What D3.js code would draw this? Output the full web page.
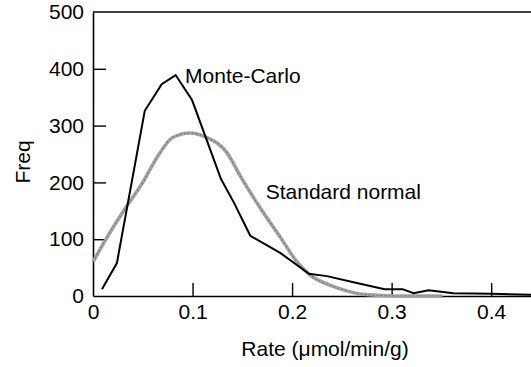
<!DOCTYPE html>
<html>
<head>
<meta charset="utf-8">
<script src="https://cdn.jsdelivr.net/npm/d3@7"></script>
<style>
  body { margin: 0; background: #fff; }
  text { font-family: "Liberation Sans", Arial, sans-serif; }
</style>
</head>
<body>
<svg id="chart" width="531" height="367"></svg>
<script>
// Monte-Carlo histogram polyline
const monteX = [0.009, 0.024, 0.052, 0.069, 0.083, 0.0995, 0.1286, 0.1417, 0.158, 0.188, 0.217, 0.235, 0.265, 0.293, 0.311, 0.322, 0.337, 0.362, 0.40, 0.44];
const monteY = [12, 58, 326, 373, 389, 345, 206, 164, 106, 76, 39, 35, 23, 12, 12, 5, 10, 5, 4, 2];

// standard normal fit
const normalX = [0, 0.013, 0.03, 0.05, 0.064, 0.08, 0.0975, 0.113, 0.1347, 0.148, 0.168, 0.188, 0.205, 0.218, 0.238, 0.255, 0.271, 0.29, 0.31, 0.33, 0.351];
const normalY = [60, 100, 148, 200, 243, 279, 287, 280, 252, 211, 155, 104, 60, 37, 19, 9, 3, 1, 0, 0, 0];

const xTicks = [0, 0.1, 0.2, 0.3, 0.4];
const yTicks = [0, 100, 200, 300, 400, 500];

const labels = [
  { text: "Monte-Carlo", x: 0.0925, y: 375 },
  { text: "Standard normal", x: 0.1735, y: 170 }
];

const margin = { left: 93, right: 0, top: 12, bottom: 71 };
const width = 531, height = 367;

const svg = d3.select("#chart");

const x = d3.scaleLinear().domain([0, 0.44]).range([margin.left, width - margin.right]);
const y = d3.scaleLinear().domain([0, 500]).range([height - margin.bottom, margin.top]);

const fontSize = 21;

// x axis
const xAxis = svg.append("g")
  .attr("transform", `translate(0,${y(0)})`)
  .call(d3.axisBottom(x).tickValues(xTicks).tickFormat(d => d === 0 ? "0" : d3.format(".1f")(d))
    .tickSizeInner(-13).tickSizeOuter(0).tickPadding(8));

// y axis
const yAxis = svg.append("g")
  .attr("transform", `translate(${x(0)},0)`)
  .call(d3.axisLeft(y).tickValues(yTicks).tickSizeInner(-13).tickSizeOuter(0).tickPadding(9));

[xAxis, yAxis].forEach(g => {
  g.select(".domain").attr("stroke", "#000").attr("stroke-width", 1.6);
  g.selectAll(".tick line").attr("stroke", "#000").attr("stroke-width", 1.4)
    .filter(d => d === 0 || d === 500).remove();
  g.selectAll(".tick text").attr("fill", "#000").style("font-size", `${fontSize}px`)
    .attr("font-family", null);
});

// top frame line
svg.append("line")
  .attr("x1", x(0)).attr("x2", width)
  .attr("y1", y(500)).attr("y2", y(500))
  .attr("stroke", "#000").attr("stroke-width", 1.6);

const line = d3.line().x(d => x(d[0])).y(d => y(d[1]));
const smoothLine = d3.line().x(d => x(d[0])).y(d => y(d[1])).curve(d3.curveMonotoneX);

const normalData = normalX.map((v, i) => [v, normalY[i]]);
const monteData = monteX.map((v, i) => [v, monteY[i]]);

// grey textured curve
svg.append("path")
  .attr("d", smoothLine(normalData))
  .attr("fill", "none")
  .attr("stroke", "#a3a3a3")
  .attr("stroke-width", 3.6)
  .attr("stroke-linejoin", "round");
svg.append("path")
  .attr("d", smoothLine(normalData))
  .attr("fill", "none")
  .attr("stroke", "#777")
  .attr("stroke-width", 1.2)
  .attr("stroke-dasharray", "1.5,2.5");

svg.append("path")
  .attr("d", line(monteData))
  .attr("fill", "none")
  .attr("stroke", "#000")
  .attr("stroke-width", 2)
  .attr("stroke-linejoin", "miter");

// curve labels
svg.append("g").selectAll("text").data(labels).enter().append("text")
  .attr("x", d => x(d.x))
  .attr("y", d => y(d.y))
  .style("font-size", `${fontSize}px`)
  .text(d => d.text);

// axis titles
svg.append("text")
  .attr("x", 325)
  .attr("y", 356)
  .attr("text-anchor", "middle")
  .style("font-size", `${fontSize}px`)
  .text("Rate (μmol/min/g)");

svg.append("text")
  .attr("transform", `translate(30,162) rotate(-90)`)
  .attr("text-anchor", "middle")
  .style("font-size", `${fontSize}px`)
  .text("Freq");
</script>
</body>
</html>
